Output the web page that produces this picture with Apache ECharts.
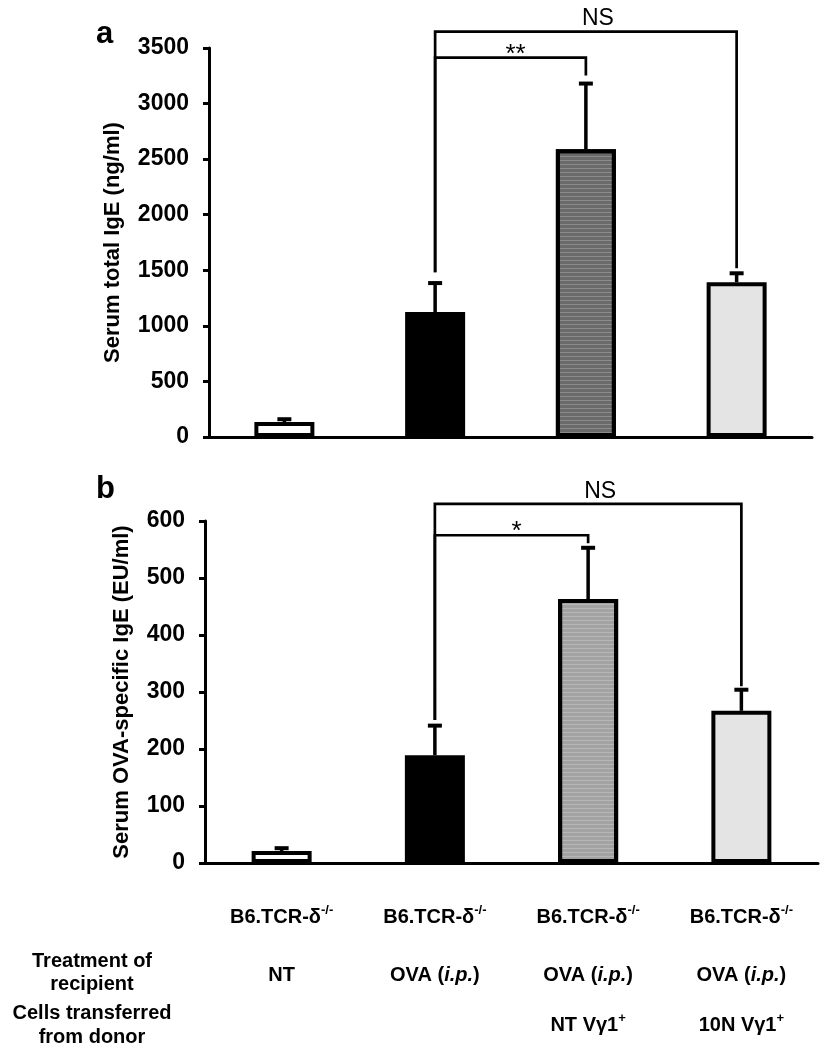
<!DOCTYPE html>
<html><head><meta charset="utf-8">
<script src="https://cdn.jsdelivr.net/npm/echarts@6/dist/echarts.min.js"></script>
<style>html,body{margin:0;padding:0;background:#fff}#c{width:834px;height:1050px}</style>
</head><body><div id="c"></div>
<script>
// ---- data ----
const categories = ['NT', 'OVA', 'OVA + NT Vγ1+', 'OVA + 10N Vγ1+'];
const strainLabels = ['B6.TCR-δ-/-', 'B6.TCR-δ-/-', 'B6.TCR-δ-/-', 'B6.TCR-δ-/-'];
const treatmentLabels = ['NT', 'OVA (i.p.)', 'OVA (i.p.)', 'OVA (i.p.)'];
const donorLabels = ['', '', 'NT Vγ1+', '10N Vγ1+'];

const totalIgE = [135, 1124, 2590, 1393];
const totalIgEErr = [25, 261, 590, 80];
const ovaIgE = [21, 189, 463, 267];
const ovaIgEErr = [5, 52, 90, 37];

const totalTicks = { min: 0, max: 3500, interval: 500 };
const ovaTicks = { min: 0, max: 600, interval: 100 };

// brackets: [fromCat, toCat, level, fromDropEnd, toDropEnd]
const totalBrackets = [[1, 3, 3648, 1482, 1518], [1, 2, 3414, 1482, 3252]];
const totalBracketLabels = ['NS', '**'];
const ovaBrackets = [[1, 3, 630, 251, 310], [1, 2, 575, 251, 561]];
const ovaBracketLabels = ['NS', '*'];

// ---- styles ----
const FONT = '"Liberation Sans", Arial, sans-serif';
const topFills = ['#ffffff', '#000000', '#6a6a6a', '#e4e4e4'];
const botFills = ['#ffffff', '#000000', '#a3a3a3', '#e4e4e4'];
const stripeDecal = { symbol: 'rect', symbolSize: 1, dashArrayX: [1, 0], dashArrayY: [1, 3], rotation: 0, color: 'rgba(255,255,255,0.22)' };

function barData(vals, fills) {
  return vals.map((v, i) => ({
    value: v,
    itemStyle: Object.assign({ color: fills[i], borderColor: '#000', borderWidth: 4 },
      i === 2 ? { decal: stripeDecal } : {})
  }));
}
function errData(vals, errs) { return vals.map((v, i) => [i, v, errs[i]]); }

function errorRender(params, api) {
  const x = api.value(0), m = api.value(1), e = api.value(2);
  const p0 = api.coord([x, m]);
  const p1 = api.coord([x, m + e]);
  const half = 7;
  return { type: 'group', children: [
    { type: 'line', shape: { x1: p0[0], y1: p0[1], x2: p1[0], y2: p1[1] }, style: { stroke: '#000', lineWidth: 3.5 } },
    { type: 'line', shape: { x1: p1[0] - half, y1: p1[1], x2: p1[0] + half, y2: p1[1] }, style: { stroke: '#000', lineWidth: 4 } }
  ]};
}
function bracketRender(labels) {
  return function (params, api) {
    const c1 = api.value(0), c2 = api.value(1), lv = api.value(2), e1 = api.value(3), e2 = api.value(4);
    const a = api.coord([c1, e1]), b = api.coord([c1, lv]), c = api.coord([c2, lv]), d = api.coord([c2, e2]);
    const txt = labels[params.dataIndex];
    const star = txt.indexOf('*') >= 0;
    return { type: 'group', children: [
      { type: 'polyline', shape: { points: [a, b, c, d] }, style: { stroke: '#000', lineWidth: 2.7, fill: null } },
      { type: 'text', style: { text: txt, x: (b[0] + c[0]) / 2 + (star ? 5 : 12), y: b[1] + (star ? 10 : -1),
        textAlign: 'center', textVerticalAlign: 'bottom', font: (star ? 'normal 26px ' : 'normal 23px ') + FONT, fill: '#000' } }
    ]};
  };
}

function fmtStrain(s) {
  const m = s.match(/^(.*?)(-\/-)$/);
  return m ? '{s|' + m[1] + '}{sup|' + m[2] + '}' : '{s|' + s + '}';
}
function fmtTreat(s) {
  const m = s.match(/^(.*\()(i\.p\.)(\).*)$/);
  return m ? '{t|' + m[1] + '}{ti|' + m[2] + '}{t|' + m[3] + '}' : '{t|' + s + '}';
}
function fmtDonor(s) {
  if (!s) return '{d| }';
  const m = s.match(/^(.*?)(\+)$/);
  return m ? '{d|' + m[1] + '}{dsup|' + m[2] + '}' : '{d|' + s + '}';
}

const chart = echarts.init(document.getElementById('c'), null, { renderer: 'canvas' });
const yAxisCommon = {
  type: 'value', nameLocation: 'middle', nameRotate: 90,
  nameTextStyle: { fontFamily: FONT, fontWeight: 'bold', fontSize: 22, color: '#000' },
  axisLine: { show: true, lineStyle: { color: '#000', width: 3 } },
  axisTick: { show: true, length: 6, lineStyle: { color: '#000', width: 3 } },
  axisLabel: { fontFamily: FONT, fontWeight: 'bold', fontSize: 23, color: '#000', margin: 20, formatter: v => String(v) },
  splitLine: { show: false }
};
const option = {
  backgroundColor: '#fff',
  animation: false,
  grid: [
    { left: 209, right: 22, top: 48, bottom: 613 },
    { left: 205, right: 16, top: 521, bottom: 187 }
  ],
  xAxis: [
    { type: 'category', gridIndex: 0, data: categories,
      axisLine: { lineStyle: { color: '#000', width: 3 } }, axisTick: { show: false }, axisLabel: { show: false } },
    { type: 'category', gridIndex: 1, data: categories,
      axisLine: { lineStyle: { color: '#000', width: 3 } }, axisTick: { show: false },
      axisLabel: {
        interval: 0, margin: 25, color: '#000',
        formatter: function (v, i) {
          return fmtStrain(strainLabels[i]) + '\n' + fmtTreat(treatmentLabels[i]) + '\n' + fmtDonor(donorLabels[i]);
        },
        rich: {
          s: { fontFamily: FONT, fontWeight: 'bold', fontSize: 20, lineHeight: 58, color: '#000' },
          sup: { fontFamily: FONT, fontWeight: 'bold', fontSize: 13, lineHeight: 16, padding: [0, 0, 14, 0], color: '#000' },
          t: { fontFamily: FONT, fontWeight: 'bold', fontSize: 20, lineHeight: 58, color: '#000' },
          ti: { fontFamily: FONT, fontWeight: 'bold', fontStyle: 'italic', fontSize: 20, lineHeight: 58, color: '#000' },
          d: { fontFamily: FONT, fontWeight: 'bold', fontSize: 20, lineHeight: 42, color: '#000' },
          dsup: { fontFamily: FONT, fontWeight: 'bold', fontSize: 13, lineHeight: 16, padding: [0, 0, 14, 0], color: '#000' }
        }
      } }
  ],
  yAxis: [
    Object.assign({}, yAxisCommon, { gridIndex: 0, name: 'Serum total IgE (ng/ml)', nameGap: 85 }, totalTicks),
    Object.assign({}, yAxisCommon, { gridIndex: 1, name: 'Serum OVA-specific IgE (EU/ml)', nameGap: 72 }, ovaTicks)
  ],
  series: [
    { type: 'bar', xAxisIndex: 0, yAxisIndex: 0, barWidth: 60, data: barData(totalIgE, topFills), z: 2 },
    { type: 'custom', xAxisIndex: 0, yAxisIndex: 0, renderItem: errorRender, data: errData(totalIgE, totalIgEErr), z: 3 },
    { type: 'custom', xAxisIndex: 0, yAxisIndex: 0, renderItem: bracketRender(totalBracketLabels), data: totalBrackets, z: 3, clip: false },
    { type: 'bar', xAxisIndex: 1, yAxisIndex: 1, barWidth: 60, data: barData(ovaIgE, botFills), z: 2 },
    { type: 'custom', xAxisIndex: 1, yAxisIndex: 1, renderItem: errorRender, data: errData(ovaIgE, ovaIgEErr), z: 3 },
    { type: 'custom', xAxisIndex: 1, yAxisIndex: 1, renderItem: bracketRender(ovaBracketLabels), data: ovaBrackets, z: 3, clip: false }
  ],
  graphic: [
    { type: 'text', left: 96, top: 19, style: { text: 'a', font: 'bold 31px ' + FONT, fill: '#000' } },
    { type: 'text', left: 96, top: 474, style: { text: 'b', font: 'bold 31px ' + FONT, fill: '#000' } },
    { type: 'text', x: 92, y: 973, style: { text: 'Treatment of\nrecipient', textAlign: 'center', textVerticalAlign: 'middle', font: 'bold 20px ' + FONT, lineHeight: 23, fill: '#000' } },
    { type: 'text', x: 92, y: 1025, style: { text: 'Cells transferred\nfrom donor', textAlign: 'center', textVerticalAlign: 'middle', font: 'bold 20px ' + FONT, lineHeight: 24, fill: '#000' } }
  ]
};
chart.setOption(option);
</script></body></html>
